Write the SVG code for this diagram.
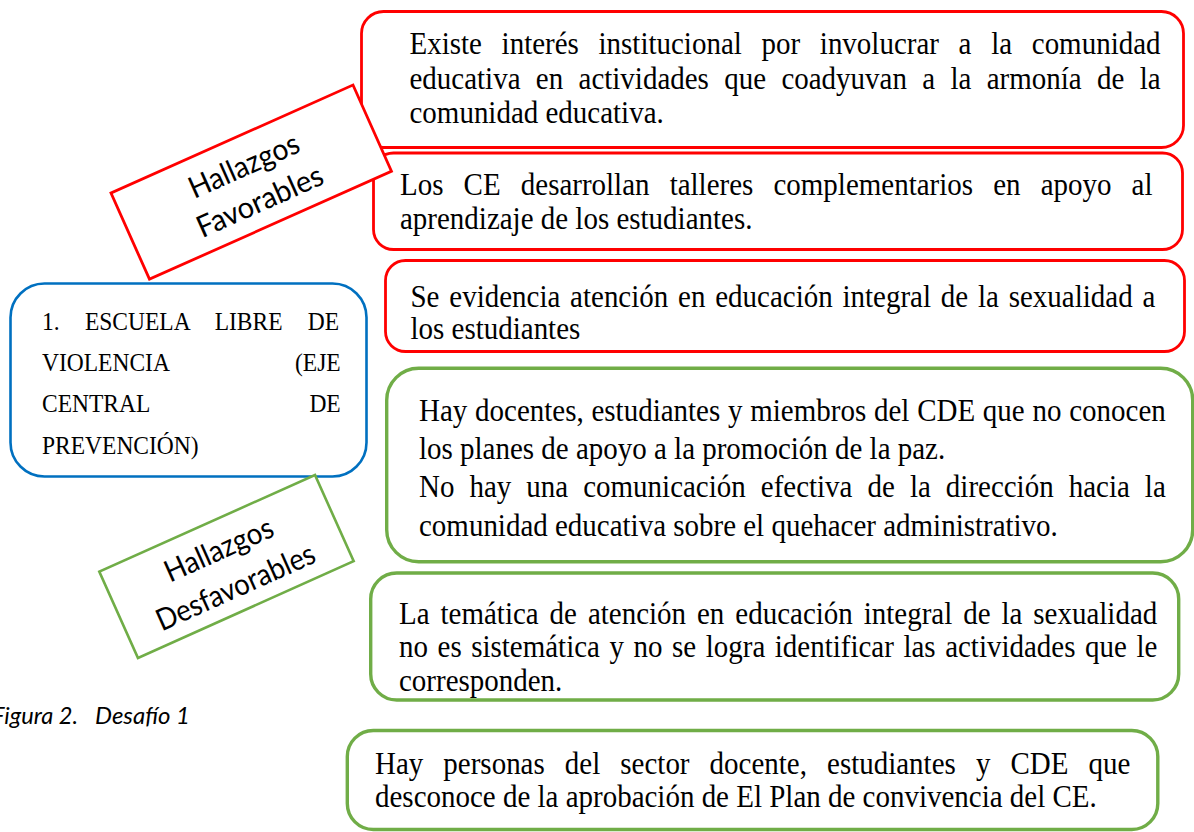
<svg xmlns="http://www.w3.org/2000/svg" width="1194" height="832" viewBox="0 0 1194 832">
<style>
.red{fill:#ffffff;stroke:#FF0000;stroke-width:2.8}
.green{fill:#ffffff;stroke:#70AD47;stroke-width:3.4}
.blue{fill:#ffffff;stroke:#0070C0;stroke-width:2.6}
.t{font-family:"Liberation Serif","Times New Roman",serif;font-size:31px;fill:#000}
.tb{font-family:"Liberation Serif","Times New Roman",serif;font-size:25px;fill:#000}
.lab{font-family:Lato,"Open Sans","Liberation Sans",sans-serif;font-size:30px;fill:#000;text-anchor:middle}
.cap{font-family:Lato,"Open Sans","Liberation Sans",sans-serif;font-size:24px;font-style:italic;fill:#000}
</style>
<rect x="0" y="0" width="1194" height="832" fill="#fff"/>
<g id="connectors"/>

<g id="node-eje">
<rect class="blue" x="10.5" y="283.5" width="356" height="193" rx="34" ry="34"/>
<text class="tb" transform="translate(42,330) scale(0.94,1)" word-spacing="20.7">1. ESCUELA LIBRE DE</text>
<text class="tb" transform="translate(42,371) scale(0.94,1)">VIOLENCIA</text>
<text class="tb" transform="translate(340.7,371) scale(0.94,1)" text-anchor="end">(EJE</text>
<text class="tb" transform="translate(42,412) scale(0.94,1)">CENTRAL</text>
<text class="tb" transform="translate(340.7,412) scale(0.94,1)" text-anchor="end">DE</text>
<text class="tb" transform="translate(42,453.5) scale(0.94,1)">PREVENCIÓN)</text>
</g>

<g id="node-fav1">
<rect class="red" x="361.5" y="11.5" width="822" height="136" rx="22" ry="22"/>
<text class="t" transform="translate(409.5,54) scale(0.935,1)" word-spacing="13.32">Existe interés institucional por involucrar a la comunidad</text>
<text class="t" transform="translate(409.5,88.5) scale(0.935,1)" word-spacing="8.66">educativa en actividades que coadyuvan a la armonía de la</text>
<text class="t" transform="translate(409.5,123) scale(0.935,1)">comunidad educativa.</text>
</g>

<g id="node-fav2">
<rect class="red" x="373.5" y="153" width="809" height="96.5" rx="20" ry="20"/>
<text class="t" transform="translate(400,195) scale(0.935,1)" word-spacing="13.8">Los CE desarrollan talleres complementarios en apoyo al</text>
<text class="t" transform="translate(400,229) scale(0.935,1)">aprendizaje de los estudiantes.</text>
</g>

<g id="label-favorables" transform="translate(111,193) rotate(-24.05)">
<rect x="0" y="0" width="265" height="94.4" fill="#fff" stroke="#FF0000" stroke-width="2.8"/>
<text class="lab" x="132.5" y="39.5" textLength="118" lengthAdjust="spacingAndGlyphs">Hallazgos</text>
<text class="lab" x="132.5" y="78.5" textLength="135" lengthAdjust="spacingAndGlyphs">Favorables</text>
</g>

<g id="node-fav3">
<rect class="red" x="385.5" y="260.5" width="799" height="91" rx="20" ry="20"/>
<text class="t" transform="translate(410.5,306.5) scale(0.935,1)" word-spacing="2.75">Se evidencia atención en educación integral de la sexualidad a</text>
<text class="t" transform="translate(410.5,338.5) scale(0.935,1)">los estudiantes</text>
</g>

<g id="node-desfav1">
<rect class="green" x="386.7" y="368.3" width="806" height="193.4" rx="32" ry="32"/>
<text class="t" transform="translate(419,420.5) scale(0.935,1)" word-spacing="0.58">Hay docentes, estudiantes y miembros del CDE que no conocen</text>
<text class="t" transform="translate(419,458.5) scale(0.935,1)">los planes de apoyo a la promoción de la paz.</text>
<text class="t" transform="translate(419,497) scale(0.935,1)" word-spacing="8.34">No hay una comunicación efectiva de la dirección hacia la</text>
<text class="t" transform="translate(419,535.5) scale(0.935,1)">comunidad educativa sobre el quehacer administrativo.</text>
</g>

<g id="node-desfav2">
<rect class="green" x="370.7" y="573" width="808" height="127" rx="26" ry="26"/>
<text class="t" transform="translate(399,623.5) scale(0.935,1)" word-spacing="3.97">La temática de atención en educación integral de la sexualidad</text>
<text class="t" transform="translate(399,657) scale(0.935,1)" word-spacing="2.46">no es sistemática y no se logra identificar las actividades que le</text>
<text class="t" transform="translate(399,690.5) scale(0.935,1)">corresponden.</text>
</g>

<g id="node-desfav3">
<rect class="green" x="347.3" y="730.5" width="810.5" height="99" rx="26" ry="26"/>
<text class="t" transform="translate(375,773.5) scale(0.935,1)" word-spacing="13.74">Hay personas del sector docente, estudiantes y CDE que</text>
<text class="t" transform="translate(375,806.5) scale(0.935,1)">desconoce de la aprobación de El Plan de convivencia del CE.</text>
</g>

<g id="label-desfavorables" transform="translate(99.3,571.7) rotate(-24.15)">
<rect x="0" y="0" width="236.4" height="94.5" fill="#fff" stroke="#70AD47" stroke-width="2.6"/>
<text class="lab" x="118" y="39" textLength="116" lengthAdjust="spacingAndGlyphs">Hallazgos</text>
<text class="lab" x="118" y="80" textLength="171" lengthAdjust="spacingAndGlyphs">Desfavorables</text>
</g>

<g id="caption">
<text class="cap" x="-8" y="723.5" textLength="86" lengthAdjust="spacingAndGlyphs">Figura 2.</text>
<text class="cap" x="95" y="723.5" textLength="95" lengthAdjust="spacingAndGlyphs">Desafío 1</text>
</g>
</svg>
